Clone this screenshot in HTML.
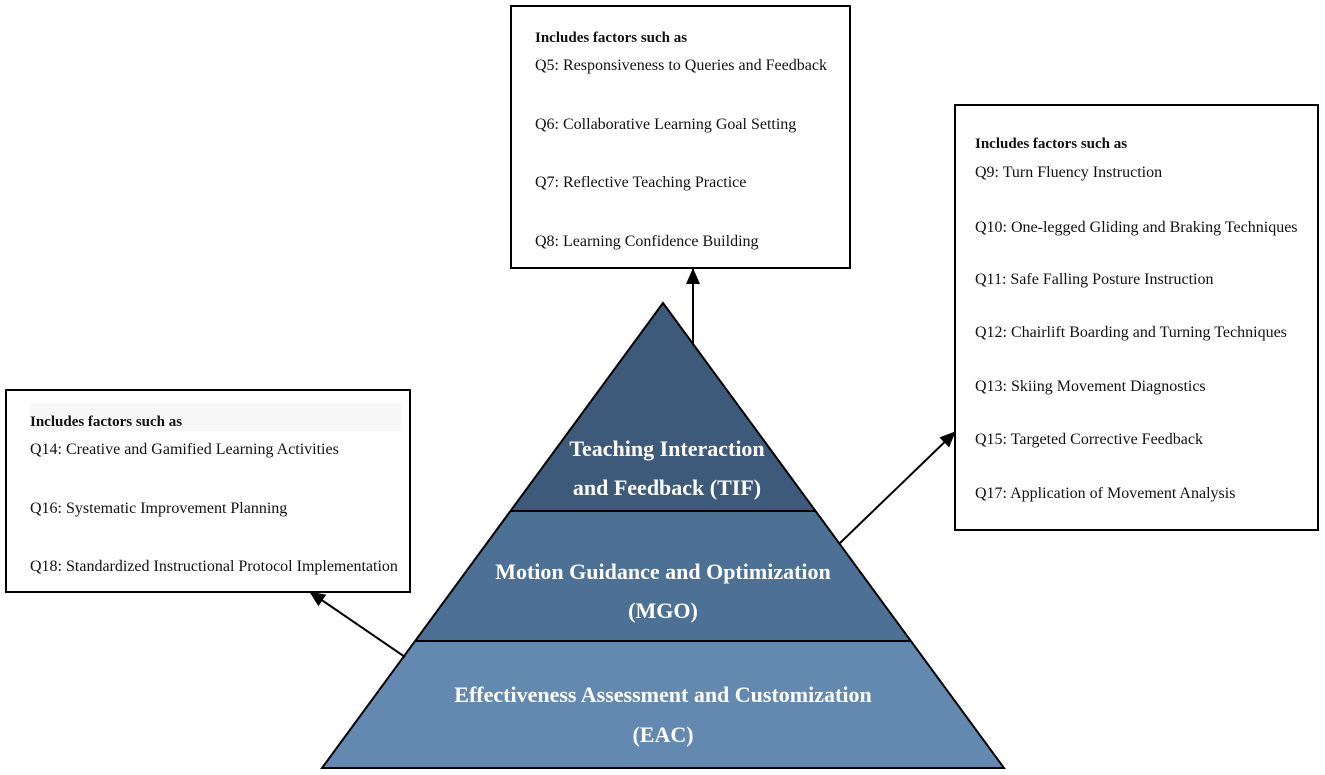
<!DOCTYPE html>
<html><head><meta charset="utf-8"><style>
html,body{margin:0;padding:0;background:#fff;}
svg{display:block;}
.t{font-family:"Liberation Serif",serif;font-size:16px;fill:#111;}
.h{font-family:"Liberation Serif",serif;font-size:15px;font-weight:bold;fill:#111;}
.p{font-family:"Liberation Serif",serif;font-size:22px;font-weight:bold;fill:#fff;text-anchor:middle;}
</style></head><body>
<svg width="1325" height="775" viewBox="0 0 1325 775" xmlns="http://www.w3.org/2000/svg">
<defs>
<marker id="b" markerWidth="16" markerHeight="14" refX="15" refY="7" orient="auto" markerUnits="userSpaceOnUse"><path d="M0,0 L16,7 L0,14 z" fill="#000"/></marker></defs>
<!-- pyramid -->
<polygon points="322,768 1004,768 910,640 416,640" fill="#6489b0"/>
<polygon points="416,640 910,640 815,510 511,510" fill="#4d7095"/>
<polygon points="511,510 815,510 663,303" fill="#3e5a7a"/>
<polygon points="663,303 1004,768 322,768" fill="none" stroke="#000" stroke-width="2"/>
<line x1="416" y1="641" x2="910" y2="641" stroke="#000" stroke-width="2"/>
<line x1="511" y1="511" x2="815" y2="511" stroke="#000" stroke-width="2"/>
<text class="p" x="667" y="456">Teaching Interaction</text>
<text class="p" x="667" y="495">and Feedback (TIF)</text>
<text class="p" x="663" y="579">Motion Guidance and Optimization</text>
<text class="p" x="663" y="618">(MGO)</text>
<text class="p" x="663" y="702">Effectiveness Assessment and Customization</text>
<text class="p" x="663" y="742">(EAC)</text>
<!-- arrows -->
<line x1="693" y1="345" x2="693" y2="269" stroke="#000" stroke-width="2" marker-end="url(#b)"/>
<line x1="840" y1="543" x2="955" y2="432" stroke="#000" stroke-width="2" marker-end="url(#b)"/>
<line x1="405" y1="657" x2="310" y2="592" stroke="#000" stroke-width="2" marker-end="url(#b)"/>
<!-- top box -->
<rect x="511" y="6" width="339" height="262" fill="#fff" stroke="#000" stroke-width="2"/>
<text class="h" x="535" y="42">Includes factors such as</text>
<text class="t" x="535" y="70">Q5: Responsiveness to Queries and Feedback</text>
<text class="t" x="535" y="129">Q6: Collaborative Learning Goal Setting</text>
<text class="t" x="535" y="187">Q7: Reflective Teaching Practice</text>
<text class="t" x="535" y="246">Q8: Learning Confidence Building</text>
<!-- right box -->
<rect x="955" y="105" width="363" height="425" fill="#fff" stroke="#000" stroke-width="2"/>
<text class="h" x="975" y="148">Includes factors such as</text>
<text class="t" x="975" y="177">Q9: Turn Fluency Instruction</text>
<text class="t" x="975" y="232">Q10: One-legged Gliding and Braking Techniques</text>
<text class="t" x="975" y="284">Q11: Safe Falling Posture Instruction</text>
<text class="t" x="975" y="337">Q12: Chairlift Boarding and Turning Techniques</text>
<text class="t" x="975" y="391">Q13: Skiing Movement Diagnostics</text>
<text class="t" x="975" y="444">Q15: Targeted Corrective Feedback</text>
<text class="t" x="975" y="498">Q17: Application of Movement Analysis</text>
<!-- left box -->
<rect x="6" y="390" width="404" height="202" fill="#fff" stroke="#000" stroke-width="2"/>
<rect x="30" y="403" width="371" height="28" fill="#f7f7f7"/>
<text class="h" x="30" y="426">Includes factors such as</text>
<text class="t" x="30" y="454">Q14: Creative and Gamified Learning Activities</text>
<text class="t" x="30" y="513">Q16: Systematic Improvement Planning</text>
<text class="t" x="30" y="571">Q18: Standardized Instructional Protocol Implementation</text>
</svg>
</body></html>
